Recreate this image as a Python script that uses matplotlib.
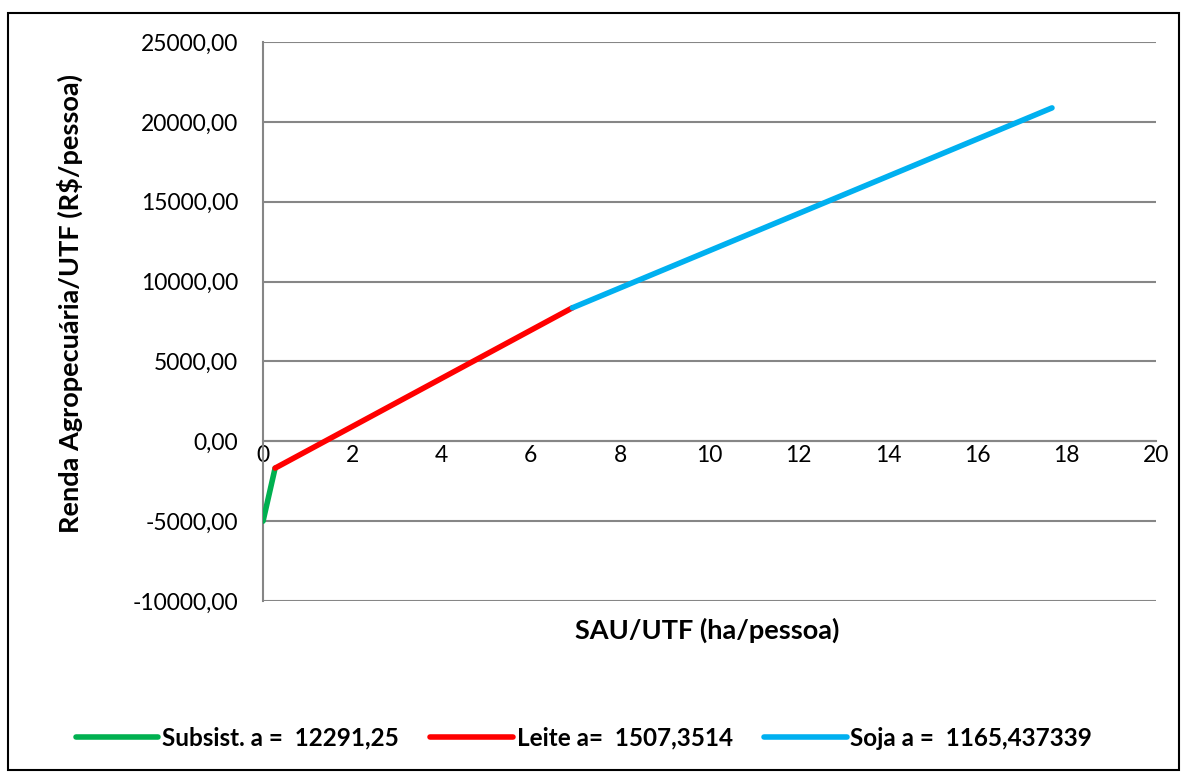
import matplotlib.pyplot as plt
from matplotlib.ticker import FuncFormatter

# breakpoints
sau = [0, 0.27, 6.93, 17.67]
renda = [-5000, -1680, 8360, 20875]
names = ["Subsist. a =  12291,25", "Leite a=  1507,3514", "Soja a =  1165,437339"]
colors = ["#00B050", "#FF0000", "#00B0F0"]
yticks = [-10000, -5000, 0, 5000, 10000, 15000, 20000, 25000]
xticks = [0, 2, 4, 6, 8, 10, 12, 14, 16, 18, 20]

plt.rcParams['font.family'] = ['Lato', 'DejaVu Sans']

fig = plt.figure(figsize=(11.87, 7.78), dpi=100)
ax = fig.add_axes([0.2216, 0.2275, 0.7523, 0.7185])

for i in range(3):
    ax.plot(sau[i:i + 2], renda[i:i + 2], color=colors[i], lw=4,
            solid_capstyle='round', label=names[i], zorder=3)

ax.set_xlim(0, 20)
ax.set_ylim(-10000, 25000)
ax.set_yticks(yticks)
ax.set_xticks(xticks)
ax.yaxis.set_major_formatter(FuncFormatter(lambda v, p: ("%.2f" % v).replace(".", ",")))
ax.grid(axis='y', color='#868686', lw=1.5)
ax.set_axisbelow(True)

for s in ['top', 'right']:
    ax.spines[s].set_visible(False)
ax.spines['left'].set_color('#868686')
ax.spines['left'].set_linewidth(1.5)
ax.spines['bottom'].set_position(('data', 0))
ax.spines['bottom'].set_color('#868686')
ax.spines['bottom'].set_linewidth(1.5)
ax.tick_params(axis='both', length=0, labelsize=16.5)
ax.tick_params(axis='y', pad=18)
ax.tick_params(axis='x', pad=3)

fig.text(0.596, 0.19, "SAU/UTF (ha/pessoa)", ha='center', va='center',
         fontsize=19.5, fontweight='bold')
fig.text(0.059, 0.61, "Renda Agropecuária/UTF (R$/pessoa)", ha='center', va='center',
         rotation=90, fontsize=19.5, fontweight='bold')

leg = fig.legend(loc='center', bbox_to_anchor=(0.492, 0.051), ncol=3, frameon=False,
                 handlelength=3.4, handletextpad=0.15, columnspacing=1.3,
                 prop={'size': 17.5, 'weight': 'bold'})

fig.patches.append(plt.Rectangle((0.007, 0.01), 0.986, 0.973, transform=fig.transFigure,
                                 fill=False, edgecolor='black', lw=1.5))

fig.savefig("out.png", dpi=100)
